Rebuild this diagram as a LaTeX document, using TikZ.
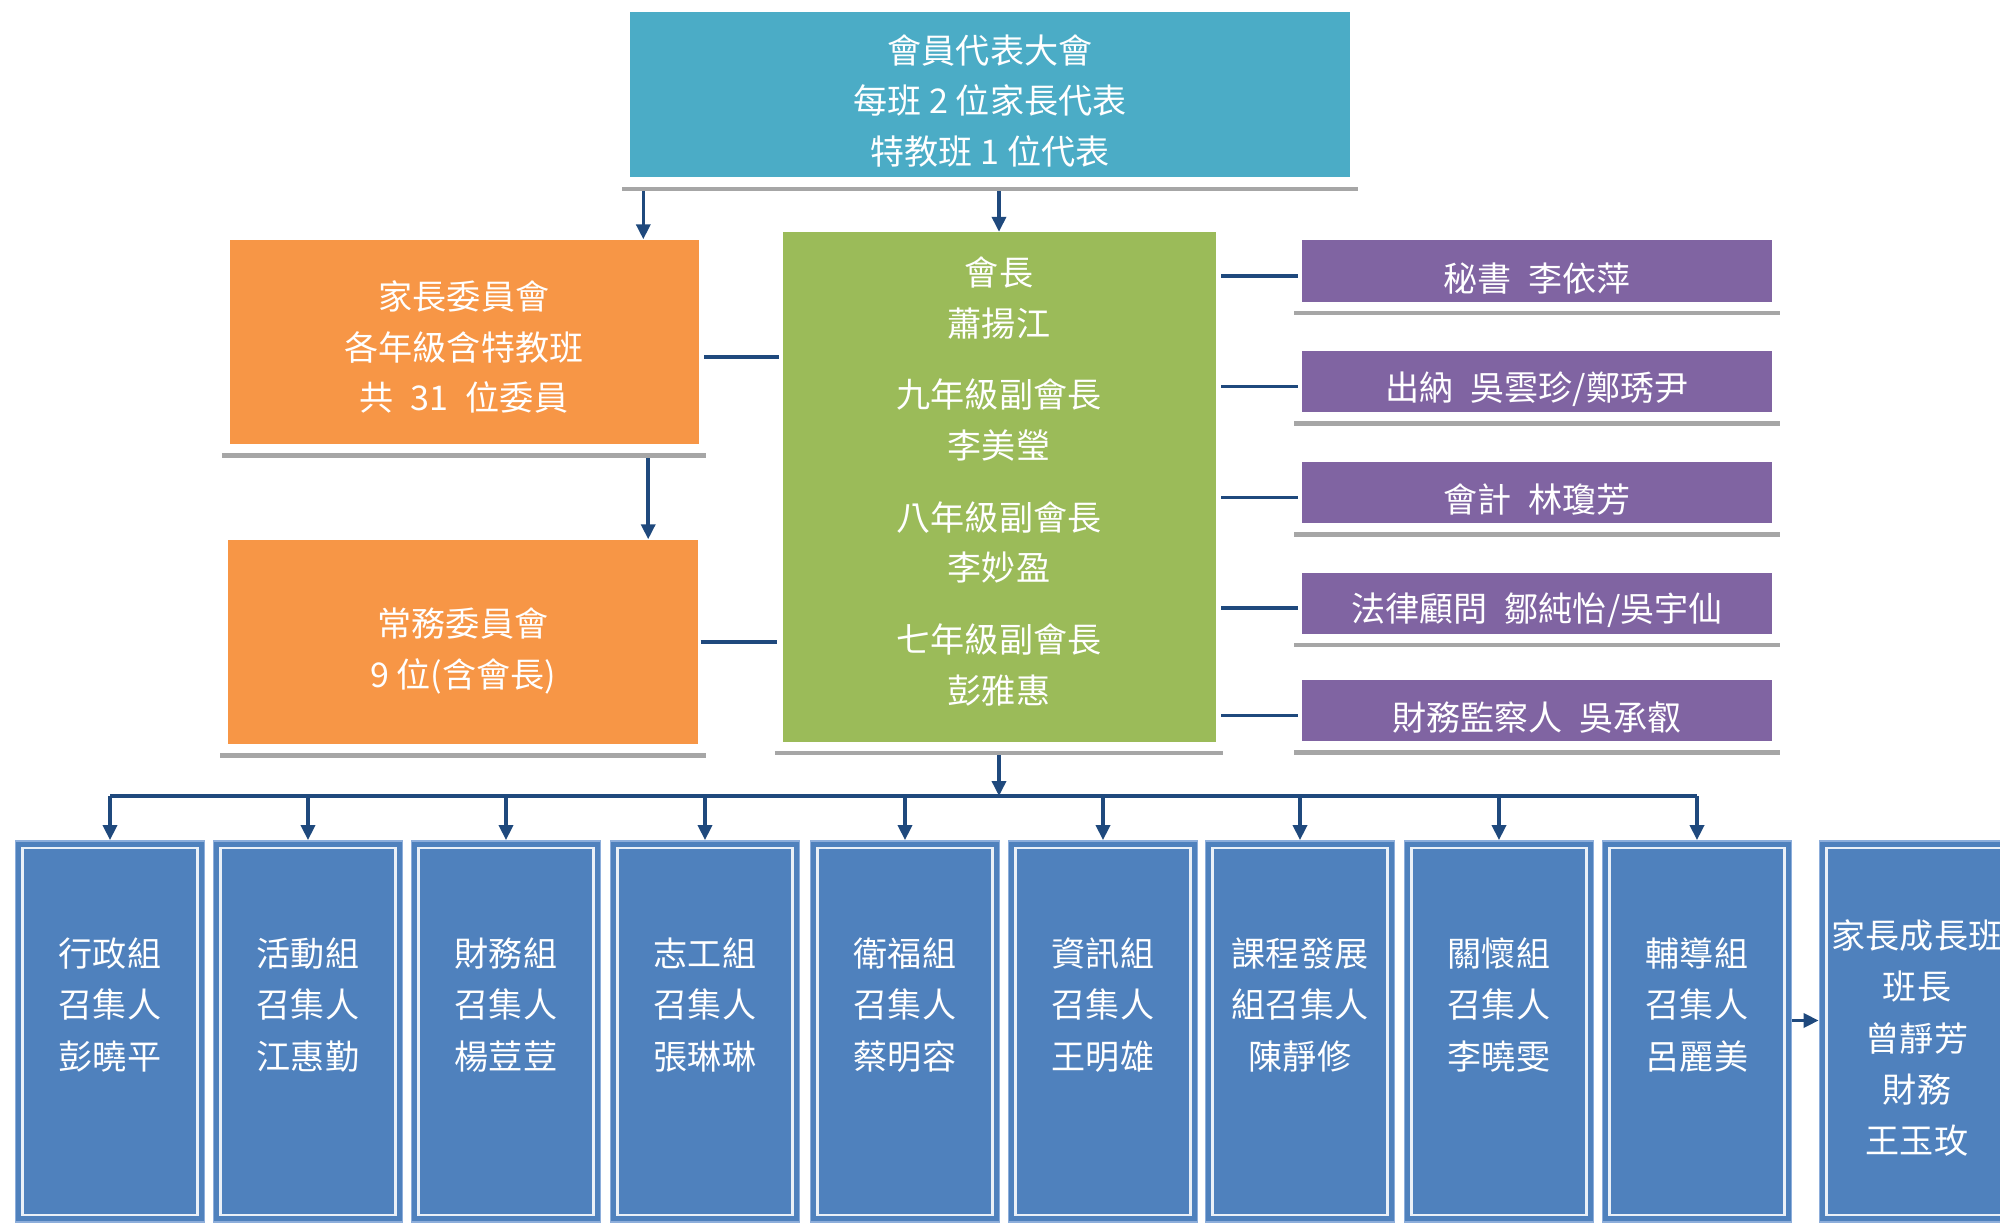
\documentclass[tikz,border=0pt]{standalone}
\usepackage{fontspec}
\setmainfont{Noto Sans CJK TC}
\usetikzlibrary{arrows.meta}

\definecolor{assemblyteal}{HTML}{4BACC6}
\definecolor{commorange}{HTML}{F79646}
\definecolor{chairgreen}{HTML}{9BBB59}
\definecolor{officerpurple}{HTML}{8064A2}
\definecolor{groupblue}{HTML}{4F81BD}
\definecolor{grouprim}{HTML}{8DAEDB}
\definecolor{linkblue}{HTML}{1F497D}
\definecolor{shadowgray}{HTML}{A6A6A6}

\tikzset{
  box/.style={rectangle, inner sep=0pt},
  boxtext/.style={inner sep=0pt, text=white, align=center,
    font=\fontsize{9.7pt}{14.4pt}\selectfont},
  officerbox/.style={box, fill=officerpurple, minimum width=4.70cm, minimum height=0.61cm},
  grpbox/.style={box, fill=groupblue, draw=grouprim, line width=0.5pt,
    minimum width=1.89cm, minimum height=3.81cm,
    path picture={\draw[white!88!groupblue, line width=0.6pt]
      ([shift={(0.07,-0.07)}]path picture bounding box.north west) rectangle
      ([shift={(-0.07,0.07)}]path picture bounding box.south east);}},
  grptext/.style={boxtext, font=\fontsize{9.7pt}{14.6pt}\selectfont},
  link/.style={linkblue, line width=1pt},
  arrowlink/.style={link, -{Triangle[length=1.5mm,width=1.4mm]}},
  shadowline/.style={shadowgray, line width=1.3pt}
}

\begin{document}
\begin{tikzpicture}
   \useasboundingbox (0,0) rectangle (20,-12.24);

   %draw the upper boxes
   \node[box, fill=assemblyteal, minimum width=7.20cm, minimum height=1.65cm] (assembly) at (9.90,-0.95) {};
   \node[boxtext] (assemblytext) at ([yshift=-0.057cm]assembly.center)
      {會員代表大會\\每班 2 位家長代表\\特教班 1 位代表};
   \node[box, fill=commorange, minimum width=4.69cm, minimum height=2.04cm] (parentcomm) at (4.64,-3.42) {};
   \node[boxtext] (parentcommtext) at ([yshift=-0.05cm]parentcomm.center)
      {家長委員會\\各年級含特教班\\共\enspace{}31\enspace{}位委員};
   \node[box, fill=commorange, minimum width=4.70cm, minimum height=2.04cm] (standcomm) at (4.63,-6.42) {};
   \node[boxtext] (standcommtext) at ([yshift=-0.09cm]standcomm.center)
      {常務委員會\\9 位(含會長)};
   \node[box, fill=chairgreen, minimum width=4.33cm, minimum height=5.09cm] (chair) at (9.99,-4.87) {};
   \node[boxtext] (chairtext) at ([yshift=0.057cm]chair.center)
      {會長\\蕭揚江\\[6pt]九年級副會長\\李美瑩\\[6pt]八年級副會長\\李妙盈\\[6pt]七年級副會長\\彭雅惠};

   %draw officers
   \foreach \name/\y/\txt in {sec/-2.71/{秘書\enspace{}李依萍},
                              cash/-3.815/{出納\enspace{}吳雲珍/鄭琇尹},
                              acct/-4.925/{會計\enspace{}林瓊芳},
                              legal/-6.03/{法律顧問\enspace{}鄒純怡/吳宇仙},
                              audit/-7.105/{財務監察人\enspace{}吳承叡}}{
       \node[officerbox] (\name) at (15.37,\y) {};
       \node[boxtext] (\name text) at ([yshift=-0.075cm]\name.center) {\txt};
       \path ([yshift=-0.05cm]\name.west) coordinate (j\name);
       \draw[link, shorten <=0.5mm, shorten >=0.3mm] (j\name -| chair.east) -- (j\name);
   }

   %draw working groups
   \foreach \i/\x/\txt in {1/1.10/{行政組\\召集人\\彭曉平},
                           2/3.08/{活動組\\召集人\\江惠勤},
                           3/5.06/{財務組\\召集人\\楊荳荳},
                           4/7.05/{志工組\\召集人\\張琳琳},
                           5/9.05/{衛福組\\召集人\\蔡明容},
                           6/11.03/{資訊組\\召集人\\王明雄},
                           7/13.00/{課程發展\\組召集人\\陳靜修},
                           8/14.99/{關懷組\\召集人\\李曉雯},
                           9/16.97/{輔導組\\召集人\\呂麗美}}{
       \node[grpbox] (grp\i) at (\x,-10.315) {};
       \node[grptext] (grp\i text) at ([yshift=0.265cm]grp\i.center) {\txt};
   }
   \node[grpbox] (parentclass) at (19.14,-10.315) {};
   \node[grptext] (parentclasstext) at ([xshift=0.03cm,yshift=-0.065cm]parentclass.center)
      {家長成長班\\班長\\曾靜芳\\財務\\王玉玫};

   %draw arrows from the assembly
   \path (assembly.south west) ++(0.14,-0.11) coordinate (leftdrop);
   \draw[arrowlink] (leftdrop) -- (leftdrop |- parentcomm.north);
   \path (assembly.south -| chair.north) ++(0,-0.11) coordinate (centerdrop);
   \draw[arrowlink] (centerdrop) -- (chair.north);
   \path (parentcomm.south east) ++(-0.51,-0.10) coordinate (commdrop);
   \draw[arrowlink] (commdrop) -- (commdrop |- standcomm.north);

   %draw links to the chair
   \path ([yshift=-0.15cm]parentcomm.east) coordinate (pcjoin);
   \draw[link, shorten <=0.5mm, shorten >=0.3mm] (pcjoin) -- (pcjoin -| chair.west);
   \draw[link, shorten <=0.2mm, shorten >=0.5mm] (standcomm.east) -- (standcomm.east -| chair.west);

   %draw the bus to the groups
   \coordinate (bus) at (0,-7.96);
   \path (chair.south) ++(0,-0.11) coordinate (trunktop);
   \draw[arrowlink] (trunktop) -- (trunktop |- bus);
   \draw[link] (grp1.north |- bus) -- (grp9.north |- bus);
   \foreach \i in {1,...,9}{
       \draw[arrowlink] (grp\i.north |- bus) -- (grp\i.north);
   }
   \path ([yshift=0.11cm]grp9.east) coordinate (classjoin);
   \draw[arrowlink] (classjoin) -- (classjoin -| parentclass.west);

   %draw shadow lines under the upper boxes
   \foreach \n in {assembly,parentcomm,standcomm,chair,sec,cash,acct,legal,audit}{
       \draw[shadowline] ([xshift=-0.07cm,yshift=-0.11cm]\n.south west) -- ([xshift=0.07cm,yshift=-0.11cm]\n.south east);
   }
\end{tikzpicture}
\end{document}
